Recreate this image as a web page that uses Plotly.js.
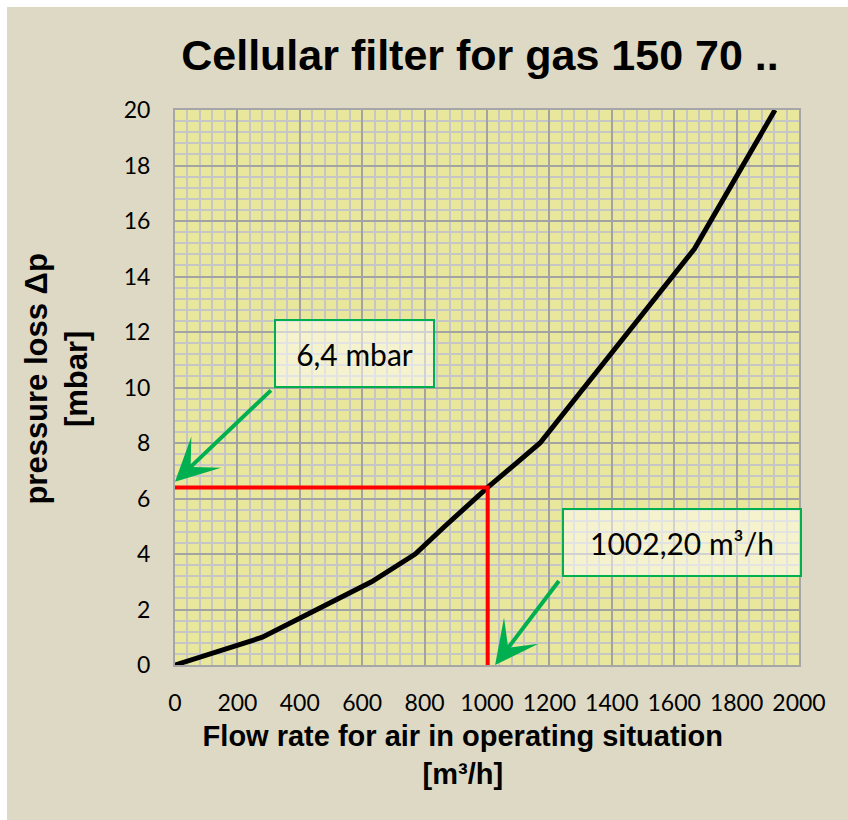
<!DOCTYPE html>
<html>
<head>
<meta charset="utf-8">
<script src="https://cdn.plot.ly/plotly-3.0.1.min.js"></script>
<style>
  html, body { margin: 0; padding: 0; background: #ffffff; }
  #chart { position: absolute; left: 7px; top: 7px; width: 841px; height: 813px; }
</style>
</head>
<body>
<div id="chart"></div>
<script>
// Data
const flowRate = [0, 280, 630, 770, 865, 1002.2, 1170, 1665, 1923];      // m³/h
const pressureLoss = [0, 1, 3, 4, 5, 6.4, 8, 15, 20];                     // mbar

// Operating point
const opFlow = 1002.2;
const opLoss = 6.4;
const opFlowLabel = "1002,20 m³/h";
const opLossLabel = "6,4 mbar";

const xTickVals = [0, 200, 400, 600, 800, 1000, 1200, 1400, 1600, 1800, 2000];
const yTickVals = [0, 2, 4, 6, 8, 10, 12, 14, 16, 18, 20];

const green = "#00B050";
const calibriLike = "Lato, 'Open Sans', sans-serif";
const arialBold = "'Liberation Sans', Arial, sans-serif";
const pad = "&nbsp;".repeat(6);
const lead = "&nbsp;&nbsp;";

const traces = [
  {
    x: flowRate, y: pressureLoss, type: "scatter", mode: "lines",
    line: { color: "#000000", width: 5 }, hoverinfo: "skip", showlegend: false
  },
  {
    x: [0, opFlow, opFlow], y: [opLoss, opLoss, 0], type: "scatter", mode: "lines",
    line: { color: "#FF0000", width: 4 }, hoverinfo: "skip", showlegend: false
  }
];

const layout = {
  width: 841, height: 813,
  paper_bgcolor: "#DDD9C4",
  plot_bgcolor: "#E9E79B",
  margin: { l: 168, r: 49, t: 103, b: 155 },
  showlegend: false,
  title: {
    text: "<b>Cellular filter for gas 150 70 ..</b>",
    font: { family: arialBold, size: 43, color: "#000000" },
    xref: "container", x: 0.5624, xanchor: "center",
    yref: "container", y: 0.9405, yanchor: "middle"
  },
  xaxis: {
    range: [0, 2000], tickvals: xTickVals, ticks: "",
    showgrid: true, gridcolor: "#A3A3A3", gridwidth: 2,
    minor: { dtick: 40, showgrid: true, gridcolor: "#C6C6C6", gridwidth: 2, ticks: "" },
    showline: true, mirror: true, linecolor: "#A6A6A6", linewidth: 2,
    zeroline: false,
    tickfont: { family: calibriLike, size: 23, color: "#000000" },
    ticklabelstandoff: 16,
    title: {
      text: "<b>Flow rate for air in operating situation" + pad + "<br>[m³/h]" + pad + "</b>",
      font: { family: arialBold, size: 29, color: "#000000" },
      standoff: 11
    }
  },
  yaxis: {
    range: [0, 20], tickvals: yTickVals, ticks: "",
    showgrid: true, gridcolor: "#A3A3A3", gridwidth: 2,
    minor: { dtick: 0.4, showgrid: true, gridcolor: "#C6C6C6", gridwidth: 2, ticks: "" },
    showline: true, mirror: true, linecolor: "#A6A6A6", linewidth: 2,
    zeroline: false,
    tickfont: { family: calibriLike, size: 23, color: "#000000" },
    ticklabelstandoff: 18,
    title: {
      text: "<b>" + lead + "pressure loss Δp<br>" + lead + "[mbar]</b>",
      font: { family: arialBold, size: 31, color: "#000000" },
      standoff: 27
    }
  },
  annotations: [
    {
      xref: "x", yref: "y", x: 575, y: 11.22,
      text: opLossLabel, showarrow: false,
      font: { family: calibriLike, size: 30, color: "#000000" },
      bgcolor: "rgba(255,255,255,0.5)", bordercolor: green, borderwidth: 2, borderpad: 0,
      width: 157, height: 65, xanchor: "center", yanchor: "middle"
    },
    {
      xref: "x", yref: "y", x: 0, y: 6.6,
      axref: "x", ayref: "y", ax: 317, ay: 10,
      text: " ", showarrow: true, arrowhead: 3, arrowsize: 1.8, arrowwidth: 4,
      arrowcolor: green, standoff: 0, startstandoff: 0
    },
    {
      xref: "x", yref: "y", x: 1625, y: 4.41,
      text: opFlowLabel, showarrow: false,
      font: { family: calibriLike, size: 30, color: "#000000" },
      bgcolor: "rgba(255,255,255,0.5)", bordercolor: green, borderwidth: 2, borderpad: 0,
      width: 236, height: 65, xanchor: "center", yanchor: "middle"
    },
    {
      xref: "x", yref: "y", x: 1026, y: 0,
      axref: "x", ayref: "y", ax: 1240, ay: 3.17,
      text: " ", showarrow: true, arrowhead: 3, arrowsize: 1.8, arrowwidth: 4,
      arrowcolor: green, standoff: 0, startstandoff: 0
    }
  ]
};

Plotly.newPlot("chart", traces, layout, { displayModeBar: false, staticPlot: true });
</script>
</body>
</html>
